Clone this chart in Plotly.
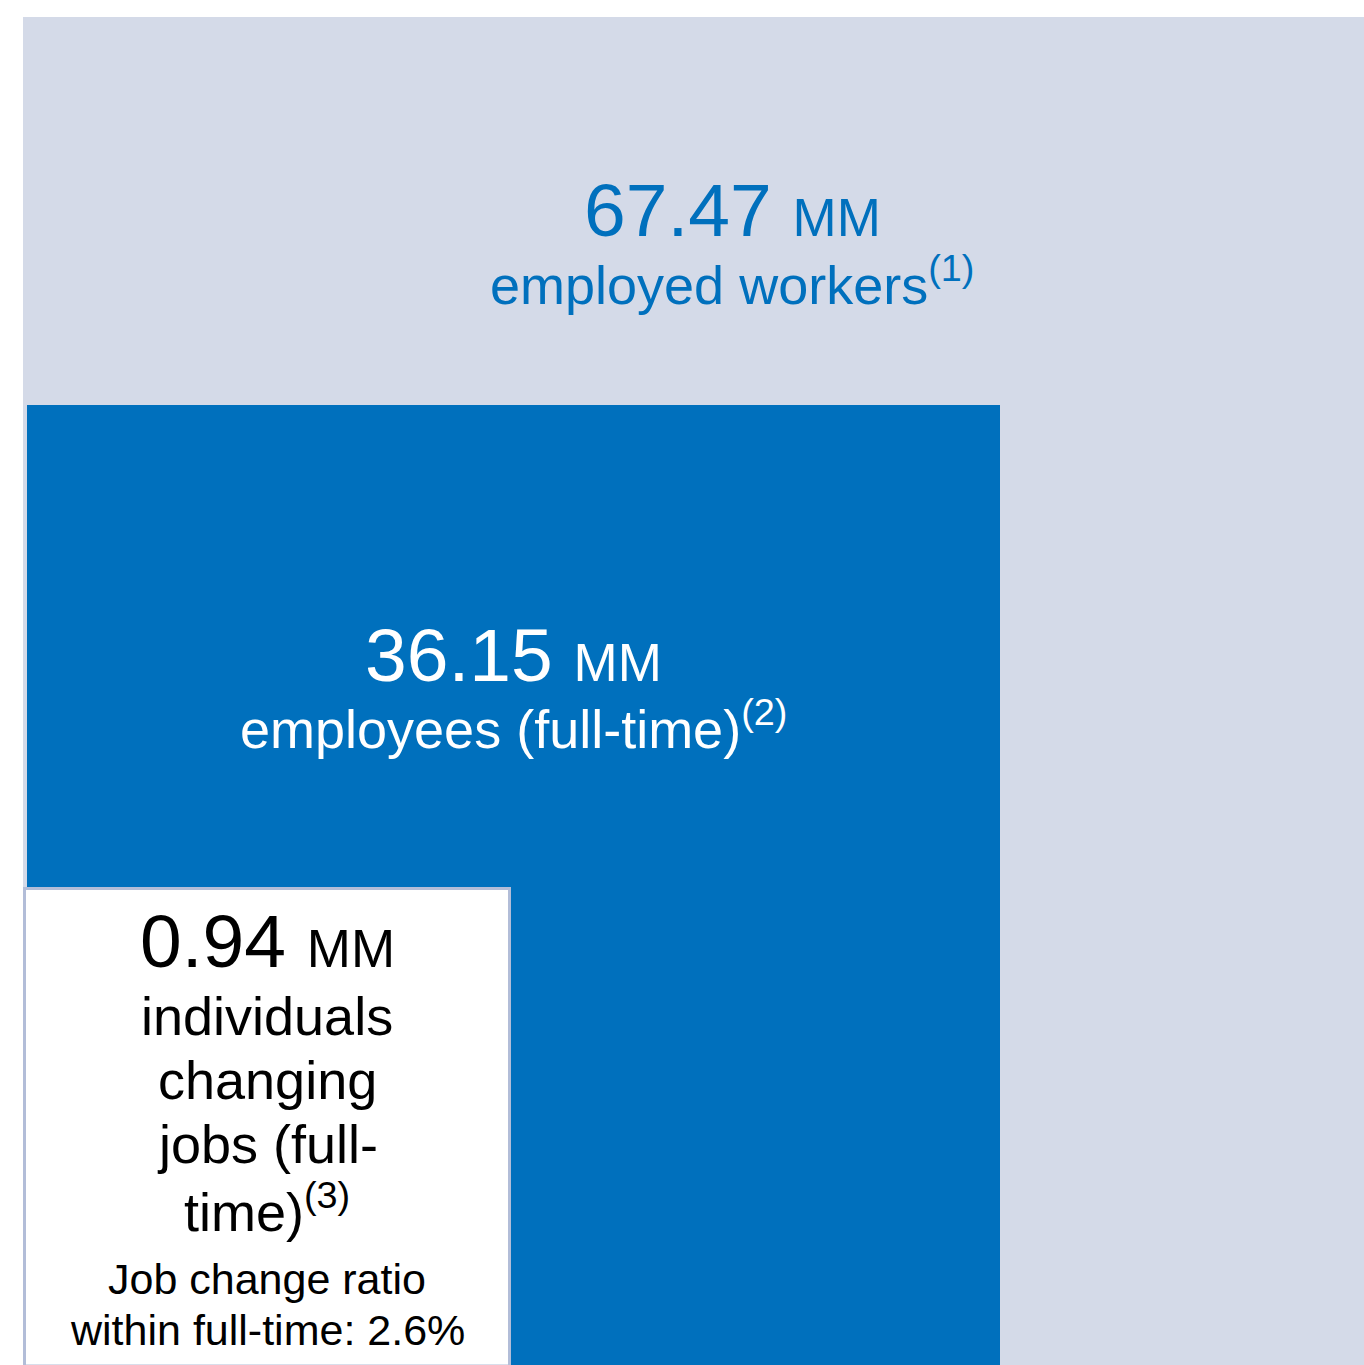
import plotly.graph_objects as go

# Headline figures (millions) and their descriptions
values = [67.47, 36.15, 0.94]
unit = "MM"
descriptions = ["employed workers", "employees (full-time)", "individuals changing jobs (full-time)"]
footnotes = ["(1)", "(2)", "(3)"]

# Job change ratio within full-time employees
ratio_pct = values[2] / values[1] * 100

W, H = 1364, 1365
FONT = "Liberation Sans, Arial, Helvetica, sans-serif"
LIGHT = "#D4DAE8"
BLUE = "#0070BD"
EDGE = "#B2BDD8"

# Panel rectangles in page coordinates: (x0, y0, x1, y1)
boxes = [
    (23, 17, 1364, 1365),
    (27, 405, 1000, 1365),
    (24.5, 888.5, 509.5, 1366),
]

fig = go.Figure()
fig.add_trace(go.Scatter(x=[0, W], y=[0, H], mode="markers",
                         marker=dict(opacity=0), hoverinfo="skip", showlegend=False))

fig.add_shape(type="rect", x0=boxes[0][0], y0=boxes[0][1], x1=boxes[0][2], y1=boxes[0][3],
              xref="x", yref="y", fillcolor=LIGHT, line=dict(width=0), layer="below")
fig.add_shape(type="rect", x0=boxes[1][0], y0=boxes[1][1], x1=boxes[1][2], y1=boxes[1][3],
              xref="x", yref="y", fillcolor=BLUE, line=dict(width=0), layer="below")
fig.add_shape(type="rect", x0=boxes[2][0], y0=boxes[2][1], x1=boxes[2][2], y1=boxes[2][3],
              xref="x", yref="y", fillcolor="white", line=dict(width=3, color=EDGE), layer="below")


def big(v, size_unit):
    return f"{v:.2f} <span style='font-size:{size_unit}px'>{unit}</span>"


def ann(x, y, text, size, color):
    fig.add_annotation(x=x, y=y, xref="x", yref="y", text=text, showarrow=False,
                       xanchor="center", yanchor="middle",
                       font=dict(family=FONT, size=size, color=color))


# Employed workers (outer panel)
cx0 = 732
ann(cx0, 210, big(values[0], 53), 75, BLUE)
ann(cx0, 281, f"{descriptions[0]}<sup>{footnotes[0]}</sup>", 54, BLUE)

# Full-time employees (blue panel)
cx1 = 513
ann(cx1, 655, big(values[1], 53), 75, "white")
ann(cx1, 725, f"{descriptions[1]}<sup>{footnotes[1]}</sup>", 54, "white")

# Job changers (white panel)
cx2 = 267
ann(cx2, 941, big(values[2], 53), 75, "black")
lines = ["individuals", "changing", "jobs (full-", f"time)<sup>{footnotes[2]}</sup>"]
for i, ln in enumerate(lines):
    ann(cx2, 1016 + i * 64, ln, 54, "black")
ann(cx2, 1279, "Job change ratio", 43, "black")
ann(cx2, 1330, f"within full-time: {ratio_pct:.1f}%", 43, "black")

fig.update_xaxes(range=[0, W], visible=False, fixedrange=True)
fig.update_yaxes(range=[H, 0], visible=False, fixedrange=True)
fig.update_layout(width=W, height=H, margin=dict(l=0, r=0, t=0, b=0),
                  paper_bgcolor="white", plot_bgcolor="white", showlegend=False)

fig.write_html("out.html")
